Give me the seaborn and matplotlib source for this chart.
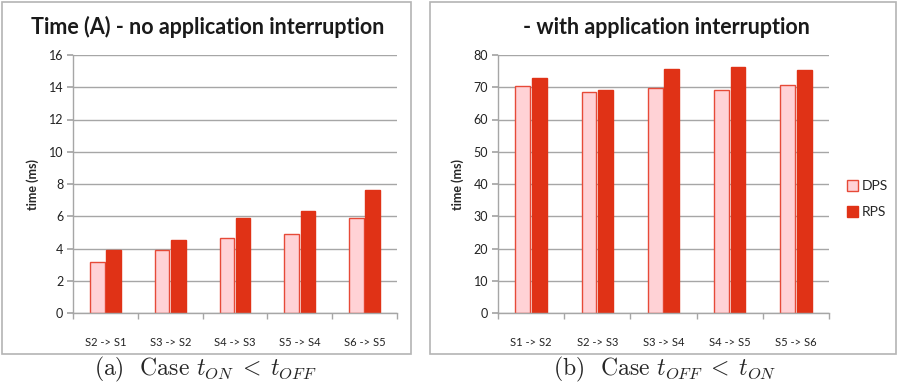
import pandas as pd
import matplotlib
matplotlib.use("Agg")
import matplotlib.pyplot as plt
import seaborn as sns
from matplotlib.patches import Rectangle

# data
left_labels = ["S2 -> S1", "S3 -> S2", "S4 -> S3", "S5 -> S4", "S6 -> S5"]
left_dps = [3.15, 3.92, 4.65, 4.92, 5.92]
left_rps = [3.9, 4.55, 5.9, 6.33, 7.6]

right_labels = ["S1 -> S2", "S2 -> S3", "S3 -> S4", "S4 -> S5", "S5 -> S6"]
right_dps = [70.4, 68.5, 69.9, 69.3, 70.6]
right_rps = [73.0, 69.2, 75.6, 76.2, 75.5]

series = ["DPS", "RPS"]

sns.set_theme(style="white")
plt.rcParams["font.family"] = ["Lato", "DejaVu Sans"]
plt.rcParams["mathtext.fontset"] = "cm"
plt.rcParams["axes.unicode_minus"] = False

DPS_FACE = "#FFD2D6"
DPS_EDGE = "#E64A38"
RPS_FACE = "#E03216"
GRID = "#A6A6A6"
W, H = 897, 384


def long_df(labels, dps, rps):
    return pd.DataFrame({
        "transition": labels * 2,
        "series": [series[0]] * len(labels) + [series[1]] * len(labels),
        "time": dps + rps,
    })


def draw_panel(ax, df, labels, ymax, step):
    sns.barplot(data=df, x="transition", y="time", hue="series", order=labels,
                hue_order=series, width=0.5, gap=0.1, ax=ax, legend=True)
    for cont, face, edge in zip(ax.containers, [DPS_FACE, RPS_FACE], [DPS_EDGE, RPS_FACE]):
        for bar in cont:
            bar.set_facecolor(face)
            bar.set_edgecolor(edge)
            bar.set_linewidth(1.0)
    ax.set_ylim(0, ymax)
    ax.set_xlim(-0.5, len(labels) - 0.5)
    ax.set_yticks(range(0, ymax + 1, step))
    ax.yaxis.grid(True, color=GRID, linewidth=1.0)
    ax.set_axisbelow(True)
    for s in ["top", "right"]:
        ax.spines[s].set_visible(False)
    for s in ["left", "bottom"]:
        ax.spines[s].set_color(GRID)
        ax.spines[s].set_linewidth(1.0)
    ax.tick_params(axis="y", left=True, length=4, color=GRID, labelsize=9, pad=3,
                   labelcolor="#222222")
    # category ticks sit between groups
    ax.set_xticks([i + 0.5 for i in range(-1, len(labels))], minor=True)
    ax.tick_params(axis="x", which="minor", bottom=True, length=4, color=GRID)
    ax.tick_params(axis="x", which="major", bottom=False, labelsize=8, pad=11,
                   labelcolor="#222222")
    ax.set_xlabel("")
    ax.set_ylabel("time (ms)", fontsize=9, fontweight="bold", labelpad=7)


fig = plt.figure(figsize=(W / 100, H / 100), dpi=100)

# panel frames
for x0, x1 in [(1.5, 411), (430, 896)]:
    fig.add_artist(Rectangle((x0 / W, 1 - 354 / H), (x1 - x0) / W, (354 - 1.5) / H,
                             transform=fig.transFigure, fill=False,
                             edgecolor="#B4B4B4", linewidth=1.2))

ax1 = fig.add_axes([73 / W, 1 - 313 / H, (397 - 73) / W, (313 - 55) / H])
ax2 = fig.add_axes([498 / W, 1 - 313 / H, (829 - 498) / W, (313 - 55) / H])

draw_panel(ax1, long_df(left_labels, left_dps, left_rps), left_labels, 16, 2)
draw_panel(ax2, long_df(right_labels, right_dps, right_rps), right_labels, 80, 10)

# titles centred over the framed panels
fig.text(208 / W, 1 - 27 / H, "Time (A) - no application interruption", ha="center",
         va="center", fontsize=15.5, fontweight="bold", color="#1a1a1a")
fig.text(666 / W, 1 - 27 / H, "- with application interruption", ha="center",
         va="center", fontsize=15.5, fontweight="bold", color="#1a1a1a")

ax1.get_legend().remove()
handles, lbls = ax2.get_legend_handles_labels()
for h, face, edge in zip(handles, [DPS_FACE, RPS_FACE], [DPS_EDGE, RPS_FACE]):
    h.set_facecolor(face)
    h.set_edgecolor(edge)
ax2.get_legend().remove()
fig.legend(handles, lbls, loc="center left", bbox_to_anchor=(841 / W, 1 - 199 / H),
           frameon=False, fontsize=10, handlelength=0.8, handleheight=0.8,
           handletextpad=0.3, labelspacing=1.0, borderaxespad=0)

# sub-figure captions
fig.text(205 / W, 1 - 369 / H, r"(a)  Case $t_{ON}\;<\;t_{OFF}$", ha="center", va="center",
         fontsize=17, family="cmr10", math_fontfamily="cm")
fig.text(665 / W, 1 - 369 / H, r"(b)  Case $t_{OFF}\;<\;t_{ON}$", ha="center", va="center",
         fontsize=17, family="cmr10", math_fontfamily="cm")

fig.savefig("out.png", dpi=100)
